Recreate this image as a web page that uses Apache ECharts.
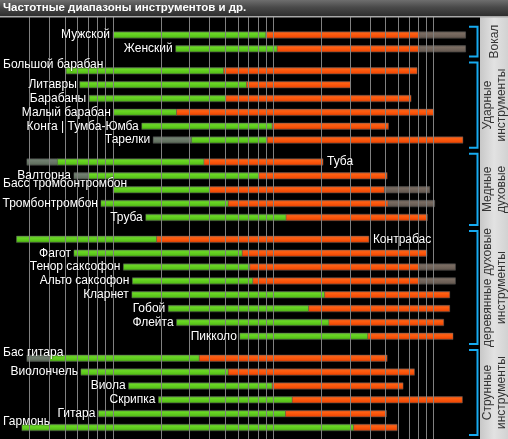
<!DOCTYPE html>
<html><head><meta charset="utf-8">
<script src="https://cdn.jsdelivr.net/npm/echarts@6/dist/echarts.min.js"></script>
<style>html,body{margin:0;padding:0;background:#000;overflow:hidden}#c{width:508px;height:439px}</style>
</head><body><div id="c"></div>
<script>
// ---------- data (frequencies in Hz) ----------
const chartTitle = 'Частотные диапазоны инструментов и др.';
const groupNames = ['Вокал', 'Ударные\nинструменты', 'Медные\nдуховые', 'деревянные духовые\nинструменты', 'Струнные\nинструменты'];
const instruments = ['Мужской', 'Женский', 'Большой барабан', 'Литавры', 'Барабаны', 'Малый барабан', 'Конга | Тумба-Юмба', 'Тарелки',
  'Туба', 'Валторна', 'Басс тромбонтромбон', 'Тромбонтромбон', 'Труба',
  'Контрабас', 'Фагот', 'Тенор саксофон', 'Альто саксофон', 'Кларнет', 'Гобой', 'Флейта', 'Пикколо',
  'Бас гитара', 'Виолончель', 'Виола', 'Скрипка', 'Гитара', 'Гармонь'];
const instrumentGroup = [0, 0, 1, 1, 1, 1, 1, 1, 2, 2, 2, 2, 2, 3, 3, 3, 3, 3, 3, 3, 3, 4, 4, 4, 4, 4, 4];
const extendedLow = [null, null, null, null, null, null, null, 178, 29, 57, null, null, null, null, null, null, null, null, null, null, null, 29, null, null, null, null, null];
const fundamentalLow = [100, 246, 51, 62, 71, 101, 151, 309, 45, 70, 100, 84, 160, 25, 57, 116, 132, 131, 221, 249, 618, 40, 63, 125, 192, 81, 27];
const fundamentalHigh = [898, 1056, 490, 680, 504, 249, 983, 915, 369, 812, 400, 523, 1200, 187, 639, 714, 745, 2090, 1660, 2220, 3880, 345, 523, 983, 1310, 1190, 3170];
const harmonicHigh = [8180, 8180, 7870, 3030, 7220, 10000, 5220, 15200, 2040, 5120, 4930, 5190, 9130, 3940, 9080, 8180, 8180, 12580, 12580, 11540, 13190, 5120, 7580, 6440, 15090, 5070, 5910];
const extendedHigh = [15800, 15800, null, null, null, null, null, null, null, null, 9440, 10140, null, null, null, 13650, 13650, null, null, null, null, null, null, null, null, null, null];
const gridFreqs = [30, 40, 50, 60, 70, 80, 90, 100, 200, 300, 400, 500, 600, 700, 800, 900, 1000, 2000, 3000, 4000, 5000, 6000, 7000, 8000, 9000, 10000];
const rightLabeled = new Set(['Туба', 'Контрабас']);

// ---------- layout helpers ----------
const GAP = 0.585;
const yPos = instruments.map((_, i) => i + instrumentGroup[i] * GAP);
const LABEL_FONT = '12px "Liberation Sans", Arial, sans-serif';
const mctx = document.createElement('canvas').getContext('2d');
mctx.font = LABEL_FONT;
const measure = t => mctx.measureText(t).width;

const LG = echarts.graphic.LinearGradient;
const fills = [
  new LG(0, 0, 0, 1, [{offset: 0, color: '#58645a'}, {offset: 0.3, color: '#718070'}, {offset: 0.75, color: '#627060'}, {offset: 1, color: '#3c463a'}]),
  new LG(0, 0, 0, 1, [{offset: 0, color: '#5a9a38'}, {offset: 0.3, color: '#6ad824'}, {offset: 0.75, color: '#58c21a'}, {offset: 1, color: '#347012'}]),
  new LG(0, 0, 0, 1, [{offset: 0, color: '#c0562c'}, {offset: 0.3, color: '#ff6012'}, {offset: 0.75, color: '#f44c06'}, {offset: 1, color: '#a03408'}]),
  new LG(0, 0, 0, 1, [{offset: 0, color: '#625850'}, {offset: 0.3, color: '#7a6c62'}, {offset: 0.75, color: '#6a5e55'}, {offset: 1, color: '#443a33'}])
];

const segs = [];
instruments.forEach((n, i) => {
  const y = yPos[i];
  if (extendedLow[i] != null) segs.push([extendedLow[i], fundamentalLow[i], y, 0]);
  segs.push([fundamentalLow[i], fundamentalHigh[i], y, 1]);
  segs.push([fundamentalHigh[i], harmonicHigh[i], y, 2]);
  if (extendedHigh[i] != null) segs.push([harmonicHigh[i], extendedHigh[i], y, 3]);
});
const labelData = instruments.map((n, i) => [
  extendedLow[i] != null ? extendedLow[i] : fundamentalLow[i],
  extendedHigh[i] != null ? extendedHigh[i] : harmonicHigh[i],
  yPos[i], i]);
const groupData = groupNames.map((g, gi) => {
  const idx = instrumentGroup.map((v, i) => v === gi ? i : -1).filter(i => i >= 0);
  return [yPos[idx[0]] - 0.6, yPos[idx[idx.length - 1]] + 0.55, gi];
});

const chart = echarts.init(document.getElementById('c'), null, {renderer: 'canvas'});
chart.setOption({
  animation: false,
  backgroundColor: '#000',
  grid: {left: 1, right: 26, top: 17, bottom: 0},
  xAxis: {type: 'log', logBase: 10, min: 20, max: 20000, show: false},
  yAxis: {type: 'value', inverse: true, min: -1.3, max: 29.17, show: false},
  graphic: [
    {type: 'rect', shape: {x: 480, y: 17, width: 28, height: 422},
      style: {fill: new LG(0, 0, 1, 0, [{offset: 0, color: '#c8c8c8'}, {offset: 0.5, color: '#e2e2e2'}, {offset: 1, color: '#d2d2d2'}])}, z: 0},
    {type: 'rect', shape: {x: 0, y: 0, width: 508, height: 16},
      style: {fill: new LG(0, 0, 0, 1, [{offset: 0, color: '#6e6e6e'}, {offset: 0.45, color: '#4a4a4a'}, {offset: 1, color: '#2e2e2e'}])}, z: 10},
    {type: 'rect', shape: {x: 0, y: 16, width: 508, height: 1.5}, style: {fill: '#a8a8a8'}, z: 10},
    {type: 'text', x: 3, y: 8, z: 11,
      style: {text: chartTitle, fill: '#fff', font: 'bold 11.5px "Liberation Sans", Arial, sans-serif', verticalAlign: 'middle', align: 'left'}}
  ],
  series: [
    {
      type: 'custom', z: 1, silent: true, data: [],
      renderItem: () => null,
      markLine: {silent: true, symbol: 'none', label: {show: false},
        lineStyle: {color: '#808080', width: 1, type: 'solid'},
        data: gridFreqs.map(f => ({xAxis: f}))}
    },
    {
      type: 'custom', z: 3, silent: true, clip: false,
      encode: {x: [0, 1], y: 2},
      data: segs,
      renderItem: (params, api) => {
        const p0 = api.coord([api.value(0), api.value(2)]);
        const p1 = api.coord([api.value(1), api.value(2)]);
        const k = api.value(3);
        const h = 6.5;
        return {type: 'rect', shape: {x: p0[0], y: p0[1] - h / 2, width: p1[0] - p0[0], height: h},
          style: {fill: fills[k], stroke: 'rgba(100,100,100,0.7)', lineWidth: 0.6}};
      }
    },
    {
      type: 'custom', z: 5, silent: true, clip: false,
      encode: {x: [0, 1], y: 2},
      data: labelData,
      renderItem: (params, api) => {
        const name = instruments[api.value(3)];
        const ps = api.coord([api.value(0), api.value(2)]);
        const pe = api.coord([api.value(1), api.value(2)]);
        let x, y = ps[1], align;
        if (rightLabeled.has(name)) { x = pe[0] + 4; align = 'left'; }
        else {
          const w = measure(name);
          if (ps[0] - 3 - w < 2) { x = 3; align = 'left'; y -= 6; }
          else { x = ps[0] - 3; align = 'right'; }
        }
        return {type: 'text', x: x, y: y,
          style: {text: name, fill: '#fff', font: LABEL_FONT, align: align, verticalAlign: 'middle',
            textShadowColor: '#000', textShadowBlur: 2}};
      }
    },
    {
      type: 'custom', z: 6, silent: true, clip: false,
      encode: {y: [0, 1]},
      data: groupData,
      renderItem: (params, api) => {
        const t = api.coord([100, api.value(0)])[1];
        const b = api.coord([100, api.value(1)])[1];
        return {type: 'group', children: [
          {type: 'polyline', shape: {points: [[469, t], [477.5, t], [477.5, b], [469, b]]},
            style: {stroke: '#16aaf0', lineWidth: 2, fill: null}},
          {type: 'text', x: 494.5, y: (t + b) / 2, rotation: Math.PI / 2,
            style: {text: groupNames[api.value(2)], fill: '#333', font: '12px "Liberation Sans", Arial, sans-serif',
              align: 'center', verticalAlign: 'middle', lineHeight: 14}}
        ]};
      }
    }
  ]
});
</script></body></html>
